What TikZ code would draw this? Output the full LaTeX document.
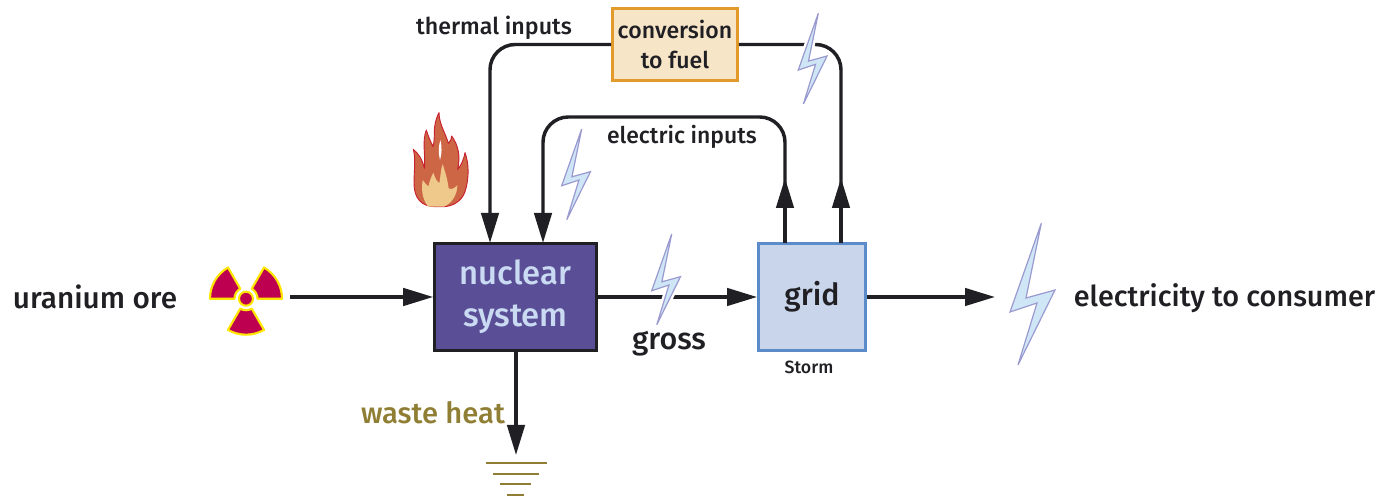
\documentclass[tikz,border=0pt]{standalone}
\usepackage{fontspec}
\setmainfont{Fira Sans Medium}
\usetikzlibrary{arrows.meta,calc}
\definecolor{ink}{HTML}{1F1F24}
\definecolor{gold}{HTML}{8F7E34}
\definecolor{boltfill}{HTML}{CFE6F6}
\definecolor{boltline}{HTML}{9A9AD0}
\definecolor{rad}{HTML}{BE0050}
\definecolor{radring}{HTML}{FFE600}
\tikzset{
  flow/.style={draw=ink,line width=2.6pt,-{Triangle[length=22.5pt,width=13pt]},rounded corners=19pt},
  plainflow/.style={draw=ink,line width=2.6pt,rounded corners=19pt},
  lbl/.style={text=ink,inner sep=0pt,align=center,font=\fontsize{17.4}{22}\selectfont},
  boxnode/.style={draw,line width=2.4pt,inner sep=0pt,align=center},
  groundline/.style={draw=gold,line width=2.2pt},
  blade/.style={fill=rad,draw=radring,line width=1.6pt,line join=round}
}
\newcommand{\boltat}[3]{%
  \begin{scope}[shift={(#1,#2)},scale=#3]
    \path[draw=white,line width=4.5pt,line join=round] (0,0)--(-15.3,74.7)--(13.7,66.7)--(-23.3,141.7)--(-4.3,79.7)--(-31.3,88.7)--cycle;
    \path[fill=boltfill,draw=boltline,line width=0.9pt,line join=miter] (0,0)--(-15.3,74.7)--(13.7,66.7)--(-23.3,141.7)--(-4.3,79.7)--(-31.3,88.7)--cycle;
  \end{scope}}
\newcommand{\bladeat}[1]{%
  \path[blade] (#1:11.5) -- (#1:36) arc[start angle=#1,delta angle=60,radius=36] -- ($(#1+60:11.5)$) arc[start angle=#1+60,delta angle=-60,radius=11.5] -- cycle;}
\begin{document}
\begin{tikzpicture}[x=0.75pt,y=-0.75pt]
\useasboundingbox (0,0) rectangle (1379,498);
% boxes
\node[boxnode,draw=ink,fill={rgb,255:red,90;green,79;blue,150},minimum width=121pt,minimum height=80pt,text={rgb,255:red,201;green,218;blue,242},font=\fontsize{24.6}{31.5}\selectfont] (nuclear) at (515.5,297) {nuclear\\system};
\node[boxnode,draw={rgb,255:red,91;green,139;blue,201},fill={rgb,255:red,201;green,213;blue,234},minimum width=80pt,minimum height=80pt,text=ink,font=\fontsize{22.8}{25}\selectfont] (grid) at (812,297) {grid};
\node[boxnode,draw={rgb,255:red,226;green,155;blue,43},fill={rgb,255:red,247;green,229;blue,200},minimum width=93.5pt,minimum height=53.5pt,text=ink,font=\fontsize{17.3}{22.5}\selectfont] (conv) at (675,44.5) {\raisebox{-1.5pt}{conversion}\\\raisebox{-1.5pt}{to fuel}};
% labels
\node[lbl,font=\fontsize{22.3}{24}\selectfont] (ore) at (95,297) {uranium ore};
\node[lbl] (thermal) at (494,28) {thermal inputs};
\node[lbl,font=\fontsize{17.2}{22}\selectfont] (electric) at (682,137) {electric inputs};
\node[lbl,font=\fontsize{22.8}{25}\selectfont] (gross) at (669,344) {gross};
\node[lbl,font=\fontsize{13.3}{14}\selectfont] (storm) at (809,367) {Storm};
\node[lbl,text=gold,font=\fontsize{21.9}{24}\selectfont] (waste) at (433,413) {waste heat};
\node[lbl,font=\fontsize{21.6}{24}\selectfont] (consumer) at (1224.5,298) {electricity to consumer};
% anchor coordinates
\coordinate (radsym) at (246,298.7);
\coordinate (oreStart) at (290,297);
\coordinate (sink) at (516,455);
\coordinate (elecEnd) at (995,297);
\coordinate (tIn) at (490,243);
\coordinate (eIn) at (543,243);
\coordinate (eOut) at (785,243);
\coordinate (fOut) at (841,243);
\coordinate (eMid) at (785,178);
\coordinate (fMid) at (841,178);
\coordinate (eTop) at (785,117);
% connectors
\draw[flow] (conv.west) -| (tIn);
\draw[flow] (eOut) -- (eTop) -- (eIn |- eTop) -- (eIn);
\draw[flow,rounded corners=0pt] (eOut) -- (eMid);
\draw[plainflow] (fOut) |- (conv.east);
\draw[flow,rounded corners=0pt] (fOut) -- (fMid);
\draw[flow] (oreStart) -- (nuclear.west);
\draw[flow] (nuclear.east) -- (grid.west);
\draw[flow] (grid.east) -- (elecEnd);
\draw[flow] (nuclear.south -| sink) -- (sink);
% ground
\draw[groundline] (486,463) -- (547,463);
\draw[groundline] (493,474) -- (539,474);
\draw[groundline] (500,484) -- (531,484);
\draw[groundline] (507,495) -- (524,495);
% bolts
\boltat{1041.3}{223.3}{1}
\boltat{818.3}{13.3}{0.64}
\boltat{671.7}{234}{0.64}
\boltat{581.7}{129}{0.64}
% radiation symbol
\begin{scope}[shift={(radsym)},y=0.75pt]
  \bladeat{0}\bladeat{120}\bladeat{240}
  \path[fill=rad,draw=radring,line width=1.6pt] (0,0) circle[radius=7];
\end{scope}
% flame
\begin{scope}[shift={(400,100)},x=0.25pt,y=-0.25pt]
  \path[fill={rgb,255:red,204;green,102;blue,68},draw={rgb,255:red,200;green,32;blue,47},line width=0.7pt,line join=round]
    (105,320) .. controls (65,320) and (42,295) .. (42,250)
    .. controls (42,210) and (48,180) .. (40,148)
    .. controls (55,160) and (68,180) .. (73,205)
    .. controls (78,170) and (65,125) .. (79,90)
    .. controls (85,110) and (92,125) .. (99,140)
    .. controls (108,110) and (95,80) .. (117,38)
    .. controls (118,75) and (135,95) .. (145,130)
    .. controls (152,125) and (155,115) .. (155,108)
    .. controls (175,135) and (182,170) .. (173,208)
    .. controls (185,195) and (192,175) .. (195,158)
    .. controls (207,190) and (208,235) .. (195,275)
    .. controls (185,305) and (155,320) .. (130,320) -- cycle;
  \path[fill={rgb,255:red,239;green,201;blue,139}]
    (85,320) .. controls (72,305) and (62,280) .. (68,240)
    .. controls (75,250) and (82,258) .. (86,258)
    .. controls (88,245) and (92,235) .. (100,218)
    .. controls (105,235) and (112,245) .. (118,250)
    .. controls (122,225) and (122,210) .. (128,192)
    .. controls (135,215) and (142,235) .. (146,265)
    .. controls (155,270) and (162,265) .. (172,256)
    .. controls (172,285) and (155,310) .. (132,320) -- cycle;
  \path[fill=white] (121,120) .. controls (126,140) and (126,160) .. (120,180) .. controls (115,160) and (115,140) .. (121,120) -- cycle;
\end{scope}
\end{tikzpicture}
\end{document}
